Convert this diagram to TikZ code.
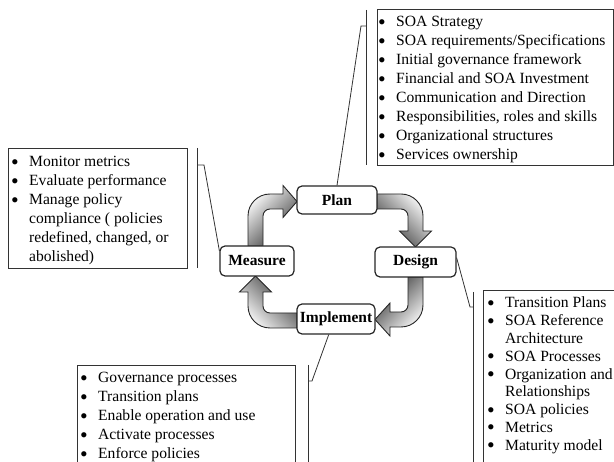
\documentclass[tikz,border=0pt]{standalone}
\usepackage{fontspec}
\usepackage{graphicx}
\setmainfont{Liberation Serif}
\newcommand\itemdot{\makebox[17.5pt][l]{\hspace{-0.6pt}\raisebox{-0.15em}{\scalebox{1.4}{\textbullet}}}}
\begin{document}
\begin{tikzpicture}[x=1pt,y=-1pt,
  stage/.style={draw=black!85, line width=1.2pt, rounded corners=5pt, fill=white,
    font=\fontsize{15.5}{18}\selectfont\bfseries, inner sep=0pt},
  listbox/.style={draw=black!80, line width=0.9pt, inner sep=0pt, anchor=north west},
  listtext/.style={anchor=base west, inner sep=0pt, font=\fontsize{15.6}{19}\selectfont},
  callout/.style={draw=black!80, line width=0.8pt},
  flow/.style={draw=black!85, line width=0.9pt, line join=miter, bottom color=white, top color=black!80},
]
\useasboundingbox (0,0) rectangle (614,462);
\clip (0,0) rectangle (614,462);

% block arrows of the cycle, darkest where they leave a stage
\draw[flow, shading angle=135] (377,194) -- (401,194) arc[start angle=270,end angle=360,radius=22]
  -- (423,231) -- (431.5,231) -- (415.5,247) -- (399.5,231) -- (408,231) -- (408,216)
  arc[start angle=0,end angle=-90,radius=7] -- (377,209) -- cycle;
\draw[flow, shading angle=45] (408,277) -- (423,277) -- (423,305) arc[start angle=0,end angle=90,radius=22]
  -- (390,327) -- (390,336) -- (375,319.5) -- (390,303) -- (390,312) -- (401,312)
  arc[start angle=90,end angle=0,radius=7] -- cycle;
\draw[flow, shading angle=-45] (297,313) -- (297,328) -- (270,328) arc[start angle=90,end angle=180,radius=22]
  -- (248,292) -- (239.5,292) -- (255.5,276) -- (271.5,292) -- (263,292) -- (263,306)
  arc[start angle=180,end angle=90,radius=7] -- cycle;
\draw[flow, shading angle=-135] (248,246) -- (248,216) arc[start angle=180,end angle=270,radius=22]
  -- (283,194) -- (283,185.5) -- (297,201.5) -- (283,217.5) -- (283,209) -- (270,209)
  arc[start angle=270,end angle=180,radius=7] -- (263,246) -- cycle;

% stages
\node[stage, minimum width=80pt, minimum height=28pt] (plan) at (337,200) {Plan};
\node[stage, minimum width=74pt, minimum height=30pt] (measure) at (257,261) {Measure};
\node[stage, minimum width=81pt, minimum height=30pt] (design) at (415.5,262) {Design};
\node[stage, minimum width=78pt, minimum height=30pt] (implement) at (336,319) {Implement};

% list boxes
\node[listbox, minimum width=236pt, minimum height=156pt] (planbox) at (377,9) {};
\node[listbox, minimum width=179pt, minimum height=120pt] (measbox) at (8,148) {};
\node[listbox, minimum width=140pt, minimum height=180pt] (designbox) at (483,290) {};
\node[listbox, minimum width=218pt, minimum height=110pt] (impbox) at (77,365) {};

\node[listtext] (plantext) at (378.5,27) {\begin{tabular}[t]{@{}l@{}l@{}}
\itemdot & SOA Strategy\\
\itemdot & SOA requirements/Specifications\\
\itemdot & Initial governance framework\\
\itemdot & Financial and SOA Investment\\
\itemdot & Communication and Direction\\
\itemdot & Responsibilities, roles and skills\\
\itemdot & Organizational structures\\
\itemdot & Services ownership
\end{tabular}};

\node[listtext] (meastext) at (11.5,167) {\begin{tabular}[t]{@{}l@{}l@{}}
\itemdot & Monitor metrics\\
\itemdot & Evaluate performance\\
\itemdot & Manage policy\\
 & compliance ( policies\\
 & redefined, changed, or\\
 & abolished)
\end{tabular}};

\node[listtext, font=\fontsize{15.6}{17.8}\selectfont] (designtext) at (487.5,308) {\begin{tabular}[t]{@{}l@{}l@{}}
\itemdot & Transition Plans\\
\itemdot & SOA Reference\\
 & Architecture\\
\itemdot & SOA Processes\\
\itemdot & Organization and\\
 & Relationships\\
\itemdot & SOA policies\\
\itemdot & Metrics\\
\itemdot & Maturity model
\end{tabular}};

\node[listtext] (imptext) at (80.5,383) {\begin{tabular}[t]{@{}l@{}l@{}}
\itemdot & Governance processes\\
\itemdot & Transition plans\\
\itemdot & Enable operation and use\\
\itemdot & Activate processes\\
\itemdot & Enforce policies
\end{tabular}};

% callouts: bracket, tick and leader line to the stage
\coordinate (pt) at (361,26);
\draw[callout] (366,10) -- (366,165);
\draw[callout] (366,26) -- (pt) -- (plan.north);

\coordinate (mt) at (204,165);
\draw[callout] (197,148) -- (197,268);
\draw[callout] (197,165) -- (mt) -- (measure.165);

\coordinate (dt) at (470,307);
\draw[callout] (473,292) -- (473,470);
\draw[callout] (design.6) -- (dt) -- (473,307);

\coordinate (it) at (312,381);
\draw[callout] (308,365) -- (308,470);
\draw[callout] (implement.245) -- (it) -- (308,381);
\end{tikzpicture}
\end{document}
